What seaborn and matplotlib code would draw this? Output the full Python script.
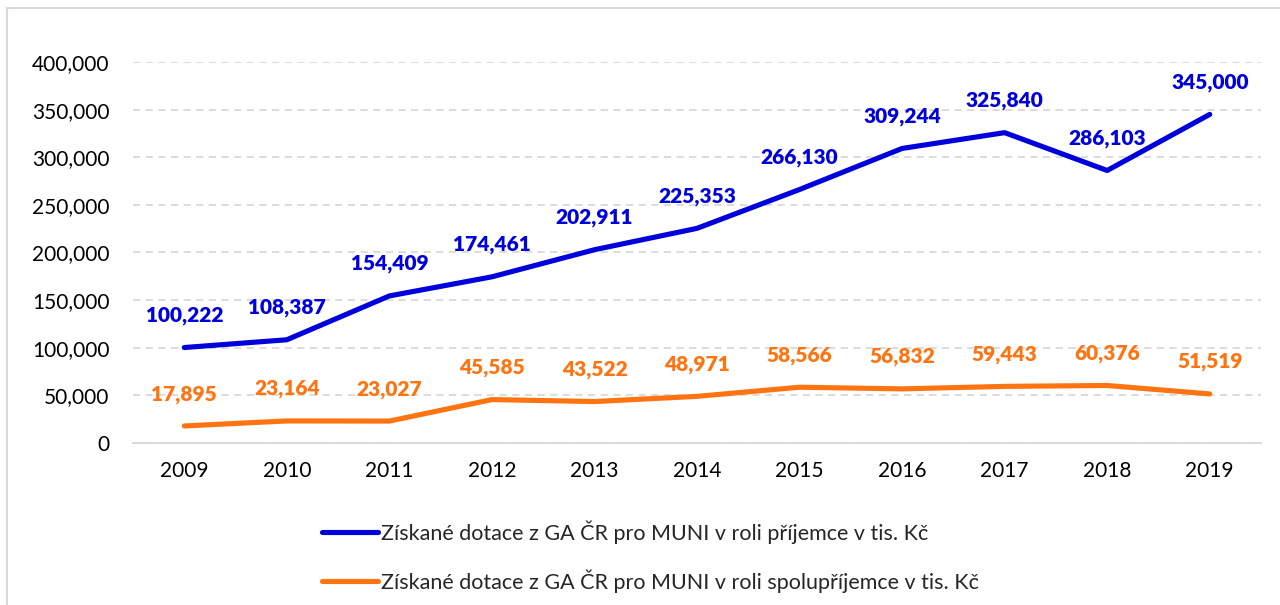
import matplotlib
matplotlib.use("Agg")
import matplotlib.pyplot as plt
import matplotlib.patches as mpatches
from matplotlib.ticker import FuncFormatter
import seaborn as sns
import pandas as pd

years = ["2009", "2010", "2011", "2012", "2013", "2014", "2015", "2016", "2017", "2018", "2019"]
prijemce = [100222, 108387, 154409, 174461, 202911, 225353, 266130, 309244, 325840, 286103, 345000]
spoluprijemce = [17895, 23164, 23027, 45585, 43522, 48971, 58566, 56832, 59443, 60376, 51519]
series_names = [
    "Získané dotace z GA ČR pro MUNI v roli příjemce v tis. Kč",
    "Získané dotace z GA ČR pro MUNI v roli spolupříjemce v tis. Kč",
]
colors = ["#0000DC", "#FF7410"]

sns.set_theme(style="white")
plt.rcParams["font.family"] = ["Lato", "DejaVu Sans"]

df = pd.DataFrame({
    "idx": list(range(len(years))) * 2,
    "value": prijemce + spoluprijemce,
    "series": [series_names[0]] * len(years) + [series_names[1]] * len(years),
})

fig = plt.figure(figsize=(12.8, 6.05), dpi=100)
ax = fig.add_axes([133 / 1280, 1 - 443 / 605, 1128 / 1280, (443 - 62) / 605])

sns.lineplot(data=df, x="idx", y="value", hue="series", palette=colors,
             linewidth=3.7, ax=ax, legend=False, solid_capstyle="round")

for vals, col in zip([prijemce, spoluprijemce], colors):
    for i, v in enumerate(vals):
        ax.annotate(f"{v:,}", (i, v), xytext=(0, 23), textcoords="offset points",
                    ha="center", va="center", color=col, fontsize=15, fontweight="heavy")

ax.set_xlim(-0.5, len(years) - 0.5)
ax.set_ylim(0, 400000)
ax.set_xticks(range(len(years)))
ax.set_xticklabels(years)
ax.set_yticks(range(0, 400001, 50000))
ax.yaxis.set_major_formatter(FuncFormatter(lambda v, p: f"{int(v):,}"))
ax.tick_params(axis="both", length=0, labelsize=15, colors="black")
ax.tick_params(axis="x", pad=13)
ax.tick_params(axis="y", pad=17)
ax.set_xlabel("")
ax.set_ylabel("")
for s in ["top", "right", "left"]:
    ax.spines[s].set_visible(False)
ax.spines["bottom"].set_color("#d9d9d9")
ax.spines["bottom"].set_linewidth(1.4)
ax.yaxis.grid(True, color="#d9d9d9", linewidth=1.3, linestyle=(0, (4, 3)))
ax.set_axisbelow(True)

handles = [plt.Line2D([], [], color=c, linewidth=3.7, solid_capstyle="round") for c in colors]
fig.legend(handles, series_names, loc="center left", bbox_to_anchor=(322 / 1280, 1 - 556.5 / 605),
           frameon=False, fontsize=15.5, handlelength=2.6, handletextpad=0.15,
           labelspacing=1.2, borderpad=0, borderaxespad=0)

frame = mpatches.Rectangle((7 / 1280, -0.05), 1.1, 1 - 8 / 605 + 0.05, transform=fig.transFigure,
                           fill=False, edgecolor="#d9d9d9", linewidth=1.5)
fig.patches.append(frame)

fig.savefig("out.png", dpi=100)
